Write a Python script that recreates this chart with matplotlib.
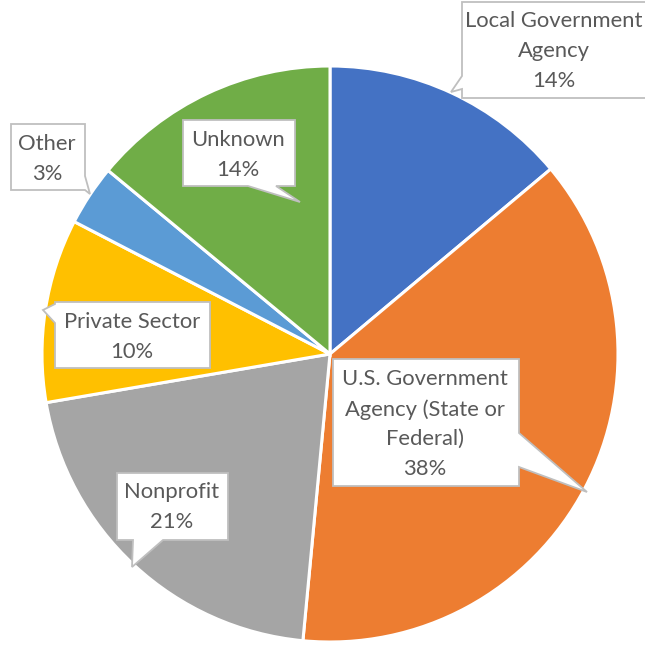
import matplotlib
matplotlib.use("Agg")
import matplotlib.pyplot as plt
from matplotlib.patches import Polygon

categories = ["Local Government\nAgency", "U.S. Government\nAgency (State or\nFederal)", "Nonprofit",
              "Private Sector", "Other", "Unknown"]
values = [13.9, 37.6, 20.8, 10.3, 3.4, 14.0]
labels_pct = [14, 38, 21, 10, 3, 14]
colors = ["#4472C4", "#ED7D31", "#A5A5A5", "#FFC000", "#5B9BD5", "#70AD47"]

W = H = 645
fig = plt.figure(figsize=(6.45, 6.45), dpi=100)
ax = fig.add_axes([0, 0, 1, 1])

def Y(y):
    return H - y

cx, cy, r = 330, 354, 288
ax.pie(values, colors=colors, startangle=90, counterclock=False, center=(cx, Y(cy)),
       radius=r, wedgeprops=dict(edgecolor="white", linewidth=2.2), frame=True)
ax.set_xlim(0, W)
ax.set_ylim(0, H)
ax.set_aspect("equal")
ax.axis("off")

# callout layout: box (x0, y0, x1, y1), tail edge, tail base (a, b), tip, text center
callouts = [
    ((462, 2, 660, 98), "left", (76, 89), (451, 92), (554, 51)),
    ((333, 359, 519, 486), "right", (433, 467), (587, 492), (425, 424)),
    ((117, 473, 228, 540), "bottom", (133, 163), (132, 567), (172, 507)),
    ((55, 302, 210, 368), "left", (304, 323), (43, 310), (132, 337)),
    ((11, 124, 85, 190), "right", (176, 190), (90, 194), (47, 159)),
    ((183, 120, 295, 186), "bottom", (248, 276), (300, 202), (238, 155)),
]

for (box, edge, (a, b), tip, tc), cat, p in zip(callouts, categories, labels_pct):
    x0, y0, x1, y1 = box
    if edge == "left":
        pts = [(x0, y0), (x1, y0), (x1, y1), (x0, y1), (x0, b), tip, (x0, a)]
    elif edge == "right":
        pts = [(x0, y0), (x1, y0), (x1, a), tip, (x1, b), (x1, y1), (x0, y1)]
    else:  # bottom
        pts = [(x0, y0), (x1, y0), (x1, y1), (b, y1), tip, (a, y1), (x0, y1)]
    poly = Polygon([(px, Y(py)) for px, py in pts], closed=True, facecolor="white",
                   edgecolor="#BFBFBF", linewidth=1.3, zorder=5)
    ax.add_patch(poly)
    ax.text(tc[0], Y(tc[1]), f"{cat}\n{p}%", ha="center", va="center", fontsize=15.8,
            color="#595959", family="Lato", linespacing=1.6, zorder=6)

fig.savefig("out.png", dpi=100)
